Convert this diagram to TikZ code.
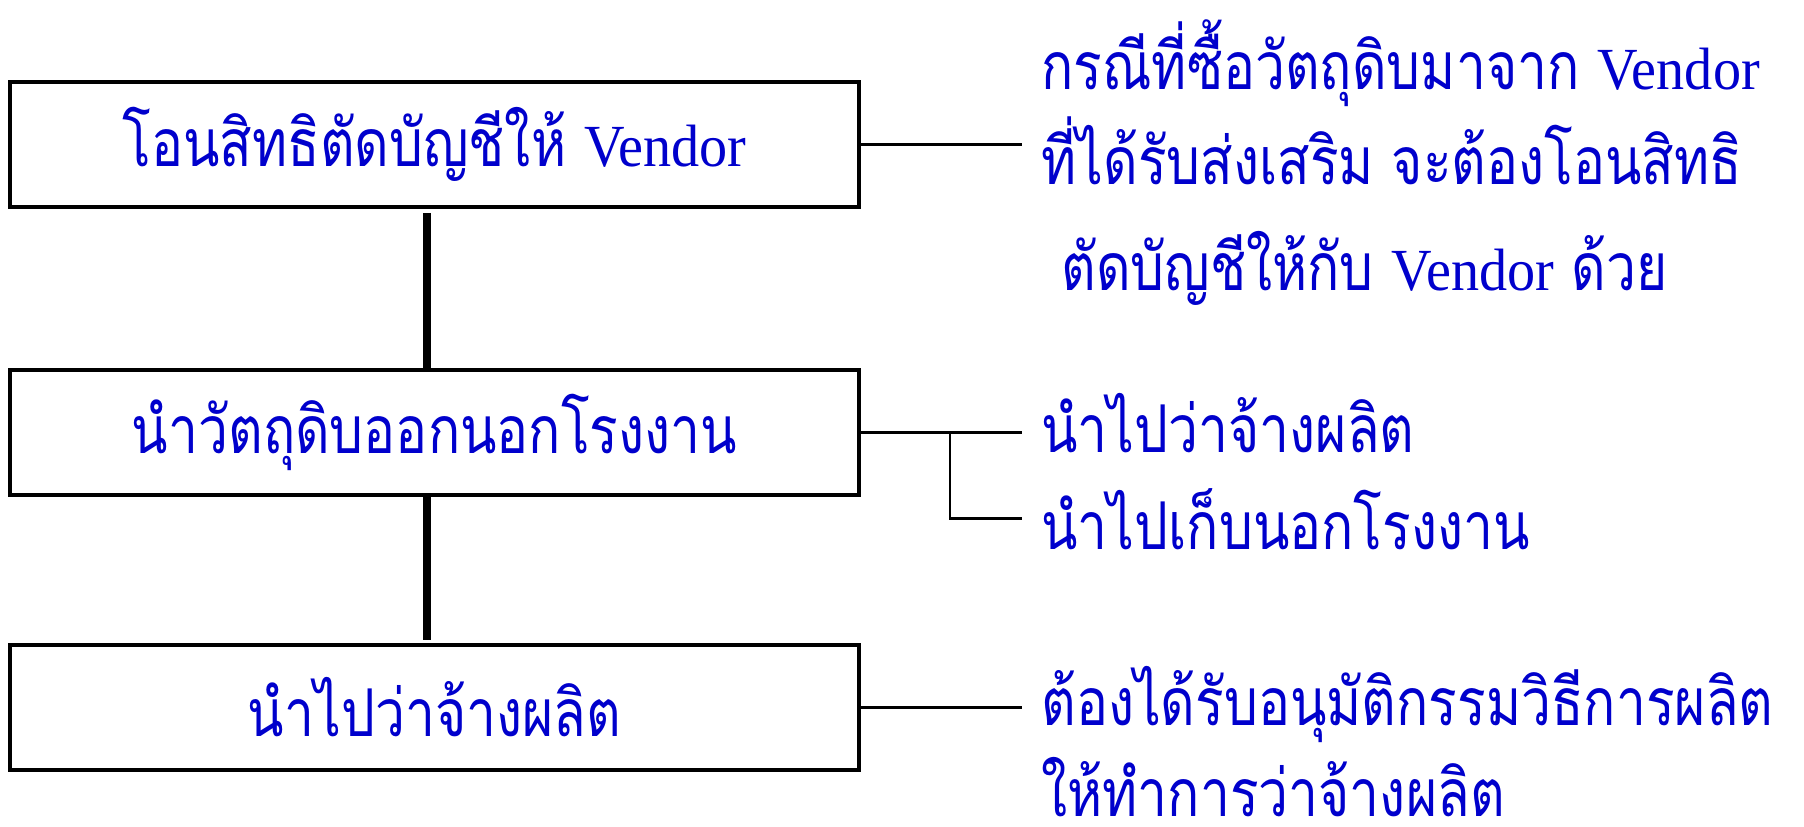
\documentclass[tikz,border=0pt]{standalone}
\usepackage{fontspec}
\newfontfamily\thaifont[Script=Thai, FakeStretch=0.81]{Loma}
\newfontfamily\latinfont[FakeStretch=0.94]{Liberation Serif}
\usetikzlibrary{shapes,arrows}
\definecolor{thaiblue}{RGB}{0,0,204}
\newcommand{\thaisize}{\thaifont\fontsize{37.5}{44}\selectfont}
\newcommand{\ven}{{\latinfont\fontsize{34}{44}\selectfont Vendor}}
\tikzstyle{block} = [rectangle, draw, line width=2pt,
    minimum width=16.98cm, minimum height=2.5cm, text=thaiblue, font=\thaisize]
\tikzstyle{note} = [text=thaiblue, inner sep=0pt, anchor=base west, font=\thaisize]
\tikzstyle{link} = [line width=1.4pt]
\tikzstyle{spine} = [line width=4pt]

\begin{document}
\begin{tikzpicture}
	\useasboundingbox (0,0) rectangle (36.08,-16.54);
	\node [block] (transfer) at (8.69,-2.89) {โอนสิทธิตัดบัญชีให้ \ven};
	\node [block, below of=transfer, node distance=5.76cm] (takeout) {นำวัตถุดิบออกนอกโรงงาน};
	\node [block, below of=takeout, node distance=5.5cm] (hire) {นำไปว่าจ้างผลิต};

	\node [note] (caseA) at (20.82,-1.78) {กรณีที่ซื้อวัตถุดิบมาจาก \ven};
	\node [note] (caseB) at (20.82,-3.68) {ที่ได้รับส่งเสริม จะต้องโอนสิทธิ};
	\node [note] (caseC) at (21.22,-5.80) {ตัดบัญชีให้กับ \ven\ ด้วย};
	\node [note] (useA) at (20.82,-9.04) {นำไปว่าจ้างผลิต};
	\node [note] (useB) at (20.82,-10.98) {นำไปเก็บนอกโรงงาน};
	\node [note] (permA) at (20.82,-14.50) {ต้องได้รับอนุมัติกรรมวิธีการผลิต};
	\node [note, text depth=0pt] (permB) at (20.82,-16.33) {ให้ทำการว่าจ้างผลิต};

	\coordinate (fork) at (19.0,-8.65);

        \draw[spine, shorten <=0.08cm] ([xshift=-0.15cm]transfer.south) -- ([xshift=-0.15cm]takeout.north);
        \draw[spine, shorten >=0.06cm] ([xshift=-0.15cm]takeout.south) -- ([xshift=-0.15cm]hire.north);
        \draw[link] (transfer.east) -- ([xshift=-0.38cm]transfer.east -| caseB.west);
        \draw[link] (takeout.east) -- ([xshift=-0.38cm]takeout.east -| useA.west);
        \draw[link] (fork) |- ([xshift=-0.38cm]useB.west);
        \draw[link] (hire.east) -- ([xshift=-0.38cm]hire.east -| permA.west);
\end{tikzpicture}
\end{document}
